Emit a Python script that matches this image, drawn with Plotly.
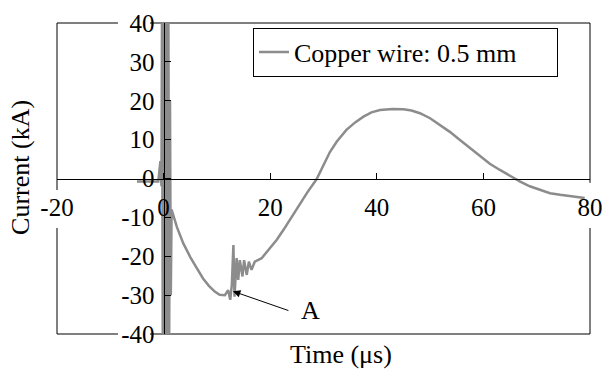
import plotly.graph_objects as go

# ---- data ----
time_us = [-5.0, -1.5, -1.0, -0.6, -0.4, -0.3, -0.15, 0.0, 0.15, 0.3, 0.45, 0.6, 0.75, 0.9,
           1.05, 1.2, 1.35, 1.5, 2.5, 3.7, 5.0, 6.2, 7.4, 8.5, 9.6, 10.5, 11.5, 12.1, 12.5,
           12.8, 13.1, 13.3, 13.7, 14.0, 14.3, 14.8, 15.1, 15.6, 16.0, 16.5, 17.1, 18.4,
           19.6, 21.2, 22.5, 25.6, 27.0, 28.7, 30.0, 31.2, 32.5, 34.3, 36.0, 37.5, 39.0,
           40.6, 43.0, 45.0, 46.5, 48.1, 50.0, 51.9, 53.7, 55.6, 57.5, 59.4, 61.2, 63.1,
           65.0, 66.9, 68.7, 70.6, 72.5, 74.4, 76.2, 78.1, 79.0]
current_ka = [-0.8, -0.8, -0.8, 4.5, -2.0, 45, -45, 45, -45, 45, -45, 42, -45, 40,
              -40, 20, -30, -8, -12.5, -16.7, -20.2, -23, -25.7, -27.6, -29.1, -29.9, -30, -28.7, -31.2,
              -27.4, -17.1, -30.4, -20.5, -26.1, -21, -25.2, -21, -24.8, -21.4, -23.5, -21.4, -20.5,
              -18.4, -15.8, -13.2, -6.4, -3.5, -0.2, 3.5, 6.8, 9.5, 12.5, 14.5, 15.9, 17.0,
              17.6, 17.9, 17.8, 17.5, 16.8, 15.5, 13.8, 12.0, 9.9, 7.8, 5.6, 3.8, 2.2,
              0.6, -0.8, -2.0, -3.0, -3.8, -4.2, -4.5, -4.7, -5.0]
series_name = "Copper wire: 0.5 mm"
x_ticks = [-20, 0, 20, 40, 60, 80]
x_tick_labels = ["-20", "0", "20", "40", "60", "80"]
y_ticks = [-40, -30, -20, -10, 0, 10, 20, 30, 40]
y_tick_labels = ["-40", "-30", "-20", "-10", "0", "10", "20", "30", "40"]

FONT = "Liberation Serif"

fig = go.Figure()
fig.add_trace(go.Scatter(x=time_us, y=current_ka, mode="lines", name=series_name,
                         line=dict(color="#8c8c8c", width=2.5)))

# frame with gaps where the tick labels sit
black = dict(color="black", width=1)
segs = [
    (0, 1, 0.1144, 1), (0.1745, 1, 1, 1),          # top
    (0, 0, 0.1144, 0), (0.1745, 0, 1, 0),          # bottom
    (0, 0, 0, 0.341), (0, 0.463, 0, 1),            # left
    (1, 0, 1, 0.341), (1, 0.486, 1, 1),            # right
]
for x0, y0, x1, y1 in segs:
    fig.add_shape(type="line", xref="paper", yref="paper", x0=x0, y0=y0, x1=x1, y1=y1,
                  line=black, layer="below")

# annotation "A" with arrow
fig.add_annotation(x=13.0, y=-29.0, ax=23.7, ay=-34.1, axref="x", ayref="y",
                   xref="x", yref="y", text="", showarrow=True, arrowhead=2,
                   arrowsize=1.5, arrowwidth=1, arrowcolor="black")
fig.add_annotation(x=27.6, y=-34.0, xref="x", yref="y", text="A", showarrow=False,
                   font=dict(family=FONT, size=26, color="black"))

# axis titles
fig.add_annotation(x=-0.0675, y=0.534, xref="paper", yref="paper", text="Current (kA)",
                   textangle=-90, showarrow=False, xanchor="center", yanchor="middle",
                   font=dict(family=FONT, size=26, color="black"))
fig.add_annotation(x=0.532, y=-0.0675, xref="paper", yref="paper", text="Time (μs)",
                   showarrow=False, xanchor="center", yanchor="middle",
                   font=dict(family=FONT, size=26, color="black"))

fig.update_layout(
    width=602, height=371,
    margin=dict(l=57, r=12, t=23, b=37, autoexpand=False),
    paper_bgcolor="white", plot_bgcolor="white",
    font=dict(family=FONT, size=25, color="black"),
    showlegend=True,
    legend=dict(x=0.3677, y=0.9855, xanchor="left", yanchor="top",
                orientation="h", entrywidth=258,
                bordercolor="black", borderwidth=1, bgcolor="white",
                font=dict(family=FONT, size=26, color="black")),
    xaxis=dict(range=[-20, 80], tickvals=x_ticks, ticktext=x_tick_labels,
               showgrid=False, zeroline=False,
               showline=True, linecolor="black", linewidth=1,
               ticks="inside", ticklen=6, tickcolor="black", automargin=False,
               tickfont=dict(family=FONT, size=25, color="black"),
               ticklabeloverflow="allow",
               anchor="free", position=0.5, ticklabelstandoff=6),
    yaxis=dict(range=[-40, 40], tickvals=y_ticks, ticktext=y_tick_labels,
               showgrid=False, zeroline=False,
               showline=True, linecolor="black", linewidth=1,
               ticks="inside", ticklen=6, tickcolor="black", automargin=False,
               tickfont=dict(family=FONT, size=25, color="black"),
               ticklabeloverflow="allow",
               anchor="free", position=0.2, ticklabelstandoff=4),
)

fig.write_html("out.html", config={"displayModeBar": False},
               post_script="document.body.style.margin='0';")
